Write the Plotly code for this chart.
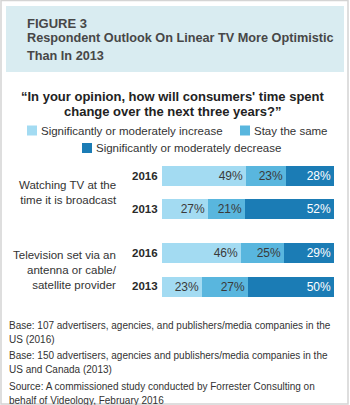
import plotly.graph_objects as go

# ---------------- data ----------------
groups = ["Watching TV at the<br>time it is broadcast",
          "Television set via an<br>antenna or cable/<br>satellite provider"]
years = ["2016", "2013"]
increase = [49, 27, 46, 23]   # order: g1-2016, g1-2013, g2-2016, g2-2013
same = [23, 21, 25, 27]
decrease = [28, 52, 29, 50]
series_names = ["Significantly or moderately increase", "Stay the same",
                "Significantly or moderately decrease"]

# ---------------- style ----------------
W, H = 350, 405
FONT = "Liberation Sans, Arial, Helvetica, sans-serif"
colors = ["#a3dbf2", "#59b6de", "#1b7cb5"]
text_colors = ["#3a3a3a", "#3a3a3a", "#ffffff"]
GROUP_STEP = 2.31


def px(x):
    return x / W


def py(y):
    return 1 - y / H


pos = []
labels_y = []
for gi in range(len(groups)):
    for yi in range(len(years)):
        pos.append(gi * GROUP_STEP + yi)
        labels_y.append(years[yi])

fig = go.Figure()
for vals, name, c, tc in zip([increase, same, decrease], series_names, colors, text_colors):
    fig.add_trace(go.Bar(
        orientation="h", x=vals, y=pos, name=name, width=0.6,
        marker=dict(color=c, line=dict(width=0)),
        text=[f"{v}%" for v in vals], textposition="inside",
        insidetextanchor="end", textangle=0,
        textfont=dict(family=FONT, size=12, color=tc),
        hoverinfo="skip", showlegend=False,
    ))

shapes = []
annotations = []

# outer frame
shapes.append(dict(type="rect", xref="paper", yref="paper",
                   x0=px(1), x1=px(348), y0=py(404), y1=py(0.5),
                   line=dict(color="#d4d4d4", width=1.5), fillcolor="rgba(0,0,0,0)",
                   layer="below"))
# header box
shapes.append(dict(type="rect", xref="paper", yref="paper",
                   x0=px(6), x1=px(344), y0=py(72), y1=py(6),
                   line=dict(width=0), fillcolor="#d9ecf1", layer="below"))

def text(x, y, s, size, color="#333333", anchor="left", bold=False, yref="paper"):
    if bold:
        s = f"<b>{s}</b>"
    annotations.append(dict(
        x=px(x), y=(py(y) if yref == "paper" else y), xref="paper", yref=yref,
        text=s, showarrow=False, xanchor=anchor, yanchor="middle",
        align=anchor if anchor != "center" else "center",
        font=dict(family=FONT, size=size, color=color)))

# header
text(25, 23.5, "FIGURE 3", 13, "#474747", bold=True)
text(25, 38, "Respondent Outlook On Linear TV More Optimistic", 12.7, "#474747", bold=True)
text(25, 55.5, "Than In 2013", 12.7, "#474747", bold=True)

# question
text(172.5, 96, "“In your opinion, how will consumers' time spent", 13, "#222222",
     anchor="center", bold=True)
text(172.5, 111.5, "change over the next three years?”", 13, "#222222",
     anchor="center", bold=True)

# legend (manual)
legend_items = [(27, 130.5, 0), (240, 130.5, 1), (82, 148, 2)]
for lx, ly, si in legend_items:
    shapes.append(dict(type="rect", xref="paper", yref="paper",
                       x0=px(lx), x1=px(lx + 10), y0=py(ly + 5), y1=py(ly - 5),
                       line=dict(width=0), fillcolor=colors[si]))
    text(lx + 12, ly, series_names[si], 11.5, "#333333")

# year labels
for p, yl in zip(pos, labels_y):
    annotations.append(dict(x=px(159.5), y=p, xref="paper", yref="y", text=f"<b>{yl}</b>",
                            showarrow=False, xanchor="right", yanchor="middle",
                            font=dict(family=FONT, size=11.5, color="#2a2a2a")))

# group labels
for gi, g in enumerate(groups):
    annotations.append(dict(x=px(119), y=gi * GROUP_STEP + 0.5, xref="paper", yref="y",
                            text=g, showarrow=False, xanchor="right", yanchor="middle",
                            align="right",
                            font=dict(family=FONT, size=11.5, color="#333333")))

# footnotes
foot = [
    (325, "Base: 107 advertisers, agencies, and publishers/media companies in the"),
    (339, "US (2016)"),
    (355.5, "Base: 150 advertisers, agencies and publishers/media companies in the"),
    (369, "US and Canada (2013)"),
    (386.5, "Source: A commissioned study conducted by Forrester Consulting on"),
    (400, "behalf of Videology, February 2016"),
]
for fy, ft in foot:
    text(7, fy, ft, 10, "#333333")

fig.update_layout(
    width=W, height=H, margin=dict(l=0, r=0, t=0, b=0),
    paper_bgcolor="white", plot_bgcolor="white",
    barmode="stack", bargap=0,
    xaxis=dict(domain=[px(162), px(334)], range=[0, 100], visible=False, fixedrange=True),
    yaxis=dict(domain=[py(303.2), py(158.8)], range=[3.81, -0.5], visible=False,
               fixedrange=True),
    shapes=shapes, annotations=annotations,
    font=dict(family=FONT),
)

fig.write_html("out.html", config={"displayModeBar": False})
